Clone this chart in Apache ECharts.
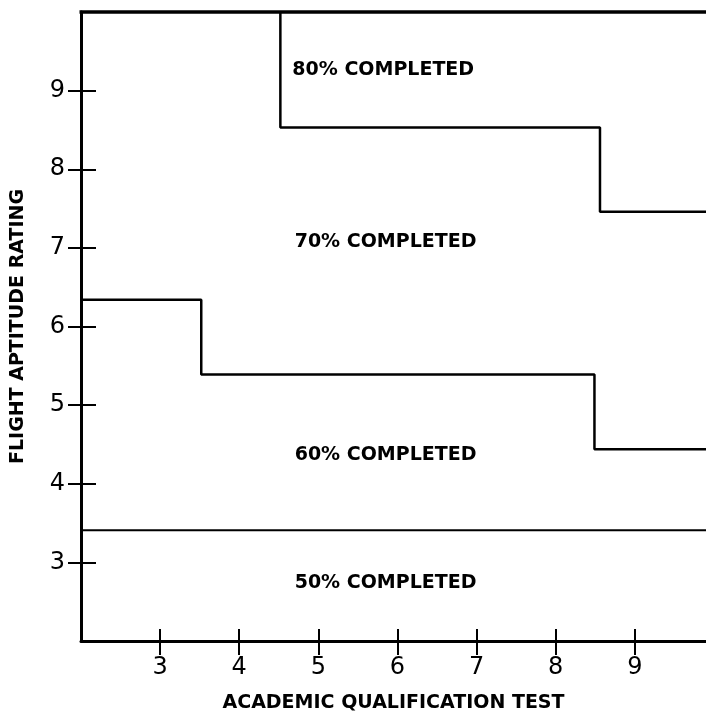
<!DOCTYPE html>
<html>
<head>
<meta charset="utf-8">
<script src="https://cdn.jsdelivr.net/npm/echarts@6/dist/echarts.min.js"></script>
<style>
html,body{margin:0;padding:0;background:#fff;}
#chart{width:706px;height:717px;}
</style>
</head>
<body>
<div id="chart"></div>
<script>
// Axis ranges and tick labels
var xTicks = [3, 4, 5, 6, 7, 8, 9];
var yTicks = [3, 4, 5, 6, 7, 8, 9];
var xRange = [2, 9.9];
var yRange = [2, 10];

// Boundary step lines: [x, y] break points
var boundary80_70 = [[4.52, 10], [8.56, 8.53], [9.9, 7.46]];      // step: start
var boundary70_60 = [[2, 6.34], [3.52, 5.39], [8.49, 4.44], [9.9, 4.44]]; // step: end
var boundary60_50 = [[2, 3.41], [9.9, 3.41]];

// Region labels
var regionNames = ['80% COMPLETED', '70% COMPLETED', '60% COMPLETED', '50% COMPLETED'];
var regionX = [5.82, 5.85, 5.85, 5.85];
var regionY = [9.26, 7.08, 4.37, 2.74];

var xTitle = 'ACADEMIC QUALIFICATION TEST';
var yTitle = 'FLIGHT APTITUDE RATING';

var chart = echarts.init(document.getElementById('chart'), null, {renderer: 'canvas'});
var black = '#000';
var labelFont = {color: black, fontFamily: 'DejaVu Sans', fontSize: 24, fontWeight: 'normal'};
var titleFont = {color: black, fontFamily: 'DejaVu Sans', fontSize: 19, fontWeight: 'bold'};

var regionData = regionNames.map(function (n, i) { return {name: n, value: [regionX[i], regionY[i]]}; });

var option = {
  animation: false,
  backgroundColor: '#fff',
  grid: {left: 81, right: 0, top: 12, bottom: 76, containLabel: false, outerBoundsMode: 'none'},
  xAxis: [
    {
      type: 'value', min: xRange[0], max: xRange[1], position: 'bottom',
      axisLine: {show: true, onZero: false, lineStyle: {color: black, width: 3}},
      axisTick: {show: true, inside: false, length: 14, customValues: xTicks, lineStyle: {color: black, width: 2}},
      axisLabel: Object.assign({show: true, margin: 15, customValues: xTicks}, labelFont),
      splitLine: {show: false},
      name: xTitle, nameLocation: 'middle', nameGap: 53, nameTextStyle: titleFont
    },
    {
      type: 'value', min: xRange[0], max: xRange[1], position: 'bottom',
      axisLine: {show: false, onZero: false},
      axisTick: {show: true, inside: true, length: 12, customValues: xTicks, lineStyle: {color: black, width: 2}},
      axisLabel: {show: false},
      splitLine: {show: false}
    }
  ],
  yAxis: [
    {
      type: 'value', min: yRange[0], max: yRange[1], position: 'left',
      axisLine: {show: true, onZero: false, lineStyle: {color: black, width: 3}},
      axisTick: {show: true, inside: false, length: 13, customValues: yTicks, lineStyle: {color: black, width: 2}},
      axisLabel: Object.assign({show: true, margin: 16, customValues: yTicks}, labelFont),
      splitLine: {show: false},
      name: yTitle, nameLocation: 'middle', nameGap: 53, nameRotate: 90, nameTextStyle: titleFont
    },
    {
      type: 'value', min: yRange[0], max: yRange[1], position: 'left',
      axisLine: {show: false, onZero: false},
      axisTick: {show: true, inside: true, length: 15, customValues: yTicks, lineStyle: {color: black, width: 2}},
      axisLabel: {show: false},
      splitLine: {show: false}
    }
  ],
  series: [
    {
      type: 'line', step: 'start', data: boundary80_70, symbol: 'none',
      lineStyle: {color: black, width: 2.5}, silent: true
    },
    {
      type: 'line', step: 'end', data: boundary70_60, symbol: 'none',
      lineStyle: {color: black, width: 2.5}, silent: true
    },
    {
      type: 'line', data: boundary60_50, symbol: 'none',
      lineStyle: {color: black, width: 2}, silent: true
    },
    {
      type: 'scatter', data: regionData, symbolSize: 0, silent: true,
      itemStyle: {opacity: 1, color: black},
      label: {show: true, position: 'inside', formatter: '{b}', color: black, opacity: 1,
              fontFamily: 'DejaVu Sans', fontSize: 19, fontWeight: 'bold'}
    }
  ],
  graphic: []
};
chart.setOption(option);

// top border line drawn along the grid top using the axis scale
var topLeft = chart.convertToPixel({xAxisIndex: 0, yAxisIndex: 0}, [xRange[0], yRange[1]]);
var topRight = chart.convertToPixel({xAxisIndex: 0, yAxisIndex: 0}, [xRange[1], yRange[1]]);
chart.setOption({
  graphic: [{
    type: 'line', shape: {x1: topLeft[0] - 1.5, y1: topLeft[1], x2: topRight[0], y2: topRight[1]},
    style: {stroke: black, lineWidth: 3.5}, silent: true
  }]
});
</script>
</body>
</html>
